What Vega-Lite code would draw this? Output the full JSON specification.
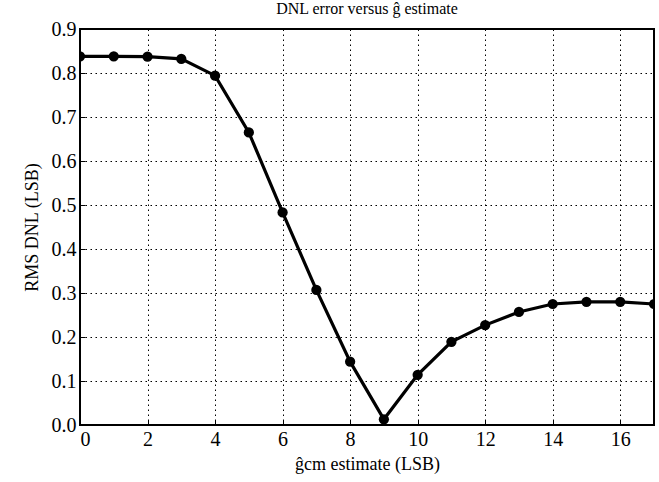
{
  "$schema": "https://vega.github.io/schema/vega-lite/v6.json",
  "width": 574,
  "height": 396,
  "autosize": {"type": "none"},
  "padding": {"left": 80, "top": 29, "right": 5, "bottom": 57},
  "background": "white",
  "title": {"text": "DNL error versus ĝ estimate", "font": "Liberation Serif", "fontSize": 16, "fontWeight": "normal", "color": "black", "offset": 2},
  "config": {
    "view": {"stroke": "black", "strokeWidth": 2},
    "axis": {
      "labelFont": "Liberation Serif", "labelFontSize": 20, "labelColor": "black",
      "titleFont": "Liberation Serif", "titleFontSize": 18, "titleFontWeight": "normal", "titleColor": "black",
      "domain": false, "tickColor": "black", "tickSize": -5, "tickWidth": 1
    }
  },
  "data": {"values": [
    {"g": 0, "rms": 0.838},
    {"g": 1, "rms": 0.838},
    {"g": 2, "rms": 0.837},
    {"g": 3, "rms": 0.832},
    {"g": 4, "rms": 0.794},
    {"g": 5, "rms": 0.665},
    {"g": 6, "rms": 0.483},
    {"g": 7, "rms": 0.307},
    {"g": 8, "rms": 0.144},
    {"g": 9, "rms": 0.013},
    {"g": 10, "rms": 0.114},
    {"g": 11, "rms": 0.189},
    {"g": 12, "rms": 0.227},
    {"g": 13, "rms": 0.257},
    {"g": 14, "rms": 0.275},
    {"g": 15, "rms": 0.280},
    {"g": 16, "rms": 0.280},
    {"g": 17, "rms": 0.275}
  ]},
  "encoding": {
    "x": {"field": "g", "type": "quantitative", "scale": {"domain": [0, 17], "nice": false, "zero": false},
      "axis": {"values": [0, 2, 4, 6, 8, 10, 12, 14, 16], "title": "ĝcm estimate (LSB)", "labelPadding": 9, "titlePadding": 6, "format": "d",
        "grid": true, "gridColor": "black", "gridDash": [1.5, 3.5], "gridOpacity": 1, "gridWidth": 1}},
    "y": {"field": "rms", "type": "quantitative", "scale": {"domain": [0, 0.9], "nice": false},
      "axis": {"values": [0, 0.1, 0.2, 0.3, 0.4, 0.5, 0.6, 0.7, 0.8, 0.9], "format": ".1f", "title": "RMS DNL (LSB)", "labelPadding": 9, "titlePadding": 10,
        "grid": true, "gridColor": "black", "gridDash": [1.5, 3.5], "gridOpacity": 1, "gridWidth": 1}}
  },
  "layer": [
    {"mark": {"type": "line", "color": "black", "strokeWidth": 3.2, "clip": true}},
    {"mark": {"type": "point", "filled": true, "color": "black", "opacity": 1, "size": 105, "clip": true}}
  ]
}
